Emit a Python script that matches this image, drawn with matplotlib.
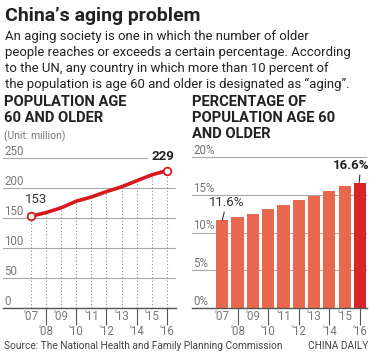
import matplotlib
matplotlib.use("Agg")
import matplotlib.pyplot as plt

years = ["'07", "'08", "'09", "'10", "'11", "'12", "'13", "'14", "'15", "'16"]
population = [153, 159, 167, 178, 185, 194, 202, 212, 222, 229]
percentage = [11.6, 12.0, 12.5, 13.1, 13.7, 14.3, 14.9, 15.5, 16.2, 16.6]
pop_ticks = [0, 50, 100, 150, 200, 250]
pct_ticks = [0, 5, 10, 15, 20]
pct_labels = ["0%", "5%", "10%", "15%", "20%"]

W, H = 376, 358
FONT = "Roboto"
plt.rcParams['font.family'] = [FONT, 'DejaVu Sans']

fig = plt.figure(figsize=(W / 100, H / 100), dpi=100)
fig.patch.set_facecolor("white")

def fx(x):
    return x / W

def fy(y):
    return 1 - y / H

DARK = "#222222"
GRAY = "#777777"
GRID = "#a8a8a8"
RED = "#D7191F"
BAR = "#E8694F"
BAR_LAST = "#D8232A"

# Header texts
fig.text(fx(5), fy(21), "China\u2019s aging problem", fontsize=14, fontweight="bold",
         color=DARK, va="baseline", ha="left")
body = ["An aging society is one in which the number of older",
        "people reaches or exceeds a certain percentage. According",
        "to the UN, any country in which more than 10 percent of",
        "the population is age 60 and older is designated as \u201caging\u201d."]
for i, line in enumerate(body):
    fig.text(fx(5), fy(40 + i * 16.1), line, fontsize=9.45, color=DARK, va="baseline", ha="left")

for i, line in enumerate(["POPULATION AGE", "60 AND OLDER"]):
    fig.text(fx(4), fy(105.7 + i * 16), line, fontsize=10.6, fontweight="bold", color=DARK,
             va="baseline", ha="left")
fig.text(fx(4), fy(139), "(Unit: million)", fontsize=7.5, color=GRAY, va="baseline", ha="left")
for i, line in enumerate(["PERCENTAGE OF", "POPULATION AGE 60", "AND OLDER"]):
    fig.text(fx(192), fy(105.7 + i * 16.2), line, fontsize=10.6, fontweight="bold", color=DARK,
             va="baseline", ha="left")

fig.text(fx(4), fy(349), "Source: The National Health and Family Planning Commission",
         fontsize=7.3, color="#444444", va="baseline", ha="left")
fig.text(fx(368), fy(349), "CHINA DAILY", fontsize=7.3, color="#444444", va="baseline", ha="right")

x = list(range(len(years)))
major_idx = [1, 3, 5, 7, 9]
minor_idx = [0, 2, 4, 6, 8]

TICK_FS = 8.3

def style_axes(ax, yt, ytl, ymax):
    for s in ["top", "left", "right"]:
        ax.spines[s].set_visible(False)
    ax.spines["bottom"].set_color("#555555")
    ax.spines["bottom"].set_linewidth(1.0)
    ax.set_ylim(0, ymax)
    ax.set_yticks(yt)
    ax.set_yticklabels(ytl)
    ax.yaxis.grid(True, color=GRID, linewidth=0.8)
    ax.set_axisbelow(True)
    ax.tick_params(axis="y", length=0, pad=-1, labelsize=TICK_FS, labelcolor=GRAY)
    for lab in ax.get_yticklabels():
        lab.set_horizontalalignment("left")
        lab.set_verticalalignment("bottom")
    ax.set_xticks(major_idx)
    ax.set_xticklabels([years[i] for i in major_idx])
    ax.set_xticks(minor_idx, minor=True)
    ax.set_xticklabels([years[i] for i in minor_idx], minor=True)
    ax.tick_params(axis="x", which="major", length=12.5, width=0.8, color="#555555",
                   pad=0, labelsize=TICK_FS, labelcolor=GRAY)
    ax.tick_params(axis="x", which="minor", length=0, pad=1.8, labelsize=TICK_FS, labelcolor=GRAY)

# Left chart
ax1 = fig.add_axes([fx(3), fy(308), fx(173), (308 - 158) / H])
ax1.set_xlim(-1.85, 9.6)
style_axes(ax1, pop_ticks, [str(v) for v in pop_ticks], 250)
ax1.vlines(x, 0, population, colors="#8a8a8a", linestyles=(0, (1, 2)), linewidth=0.8, zorder=2)
ax1.plot(x, population, color=RED, linewidth=2.6, solid_capstyle="round", zorder=3)
ax1.plot([x[0], x[-1]], [population[0], population[-1]], "o", markersize=5.5,
         markerfacecolor="white", markeredgecolor=RED, markeredgewidth=1.3, zorder=4, clip_on=False)
ax1.annotate(str(population[0]), (x[0], population[0]), xytext=(4, 7), textcoords="offset points",
             fontsize=9.5, color="#333333", ha="center", va="bottom")
ax1.annotate(str(population[-1]), (x[-1], population[-1]), xytext=(-3, 5.5), textcoords="offset points",
             fontsize=9.5, fontweight="bold", color=DARK, ha="center", va="bottom",
             bbox=dict(boxstyle="square,pad=0.25", fc="white", ec="none"), annotation_clip=False)

# Right chart
ax2 = fig.add_axes([fx(192), fy(308), fx(175), (308 - 157) / H])
ax2.set_xlim(-1.98, 9.46)
style_axes(ax2, pct_ticks, pct_labels, 20)
colors = [BAR] * (len(percentage) - 1) + [BAR_LAST]
ax2.bar(x, percentage, width=0.8, color=colors, zorder=2)
ax2.annotate(f"{percentage[0]}%", (x[0], percentage[0]), xytext=(3, 8), textcoords="offset points",
             fontsize=9.5, color="#333333", ha="center", va="bottom",
             arrowprops=dict(arrowstyle="-", color="#333333", lw=0.8, shrinkA=0, shrinkB=0))
ax2.annotate(f"{percentage[-1]}%", (x[-1] - 0.05, percentage[-1]), xytext=(-6, 7.5), textcoords="offset points",
             fontsize=9.5, fontweight="bold", color=DARK, ha="center", va="bottom",
             arrowprops=dict(arrowstyle="-", color="#333333", lw=0.8, shrinkA=0, shrinkB=0,
                             relpos=(0.75, 0)), annotation_clip=False)

fig.savefig("out.png", dpi=100, facecolor="white")
